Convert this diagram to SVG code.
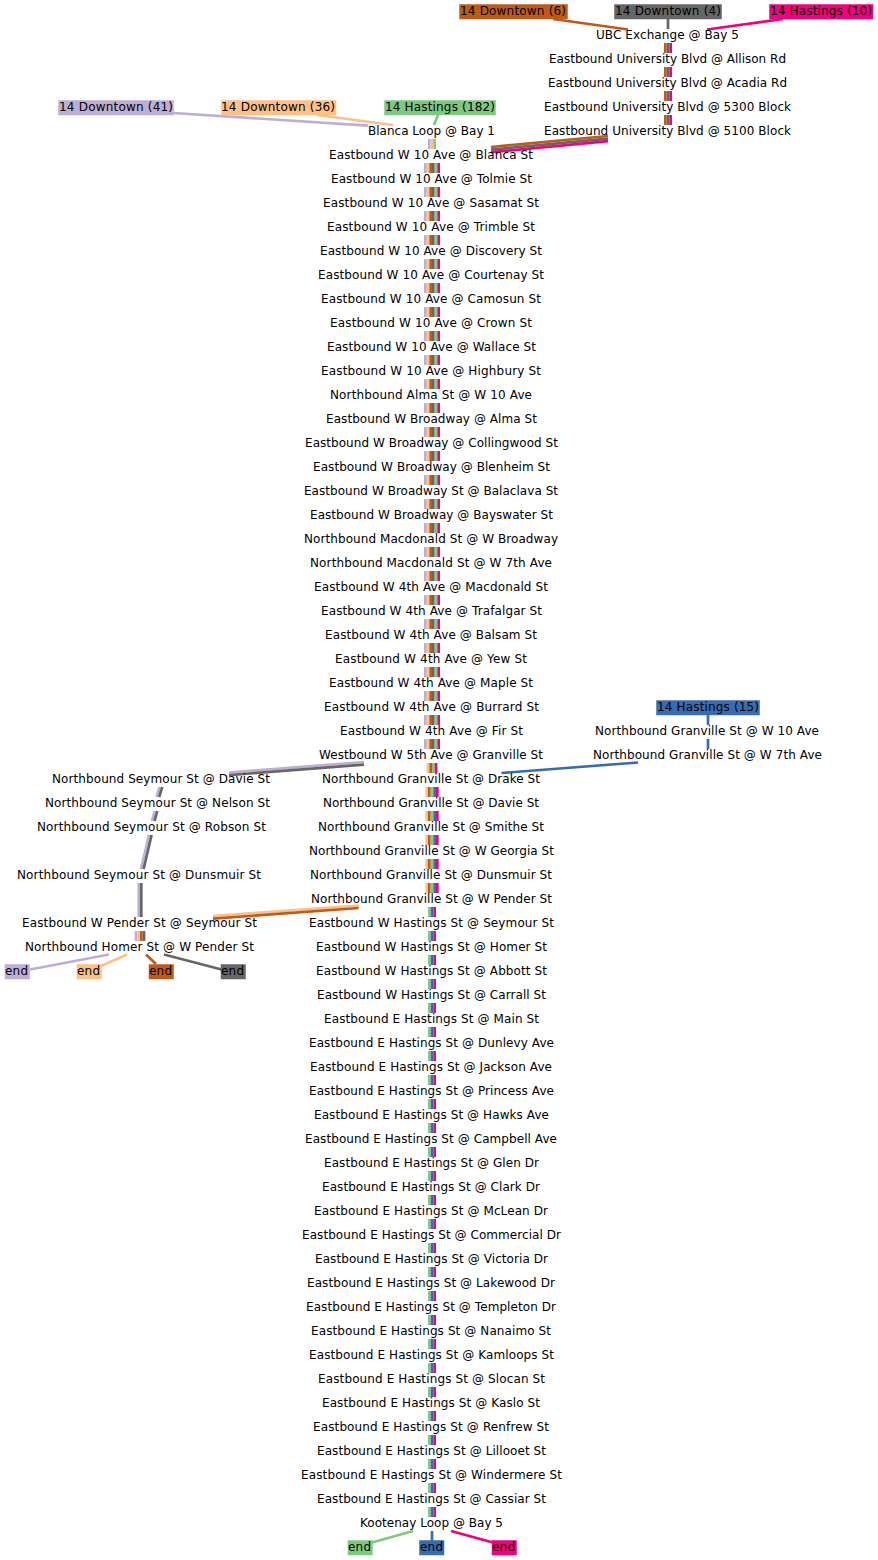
<svg xmlns="http://www.w3.org/2000/svg" xmlns:xlink="http://www.w3.org/1999/xlink" width="878" height="1560" viewBox="0 0 878 1560">
<style>
text{font-family:"DejaVu Sans",sans-serif;font-size:12px;fill:#000;text-anchor:middle}
line{fill:none;stroke-width:2.67;stroke-linecap:butt}
.p{stroke:#beaed4}.o{stroke:#fdc086}.g{stroke:#7fc97f}.b{stroke:#386cb0}.m{stroke:#f0027f}.r{stroke:#bf5b17}.k{stroke:#666666}
rect{stroke-width:1}
rect.p{fill:#beaed4;stroke-opacity:.5}rect.o{fill:#fdc086;stroke-opacity:.5}rect.g{fill:#7fc97f;stroke-opacity:.5}rect.b{fill:#386cb0;stroke-opacity:.5}rect.m{fill:#f0027f;stroke-opacity:.5}rect.r{fill:#bf5b17;stroke-opacity:.5}rect.k{fill:#666666;stroke-opacity:.5}
</style>
<defs>
<g id="b3top"><line class="r" x1="665.33" x2="665.33" y1="0" y2="10"/><line class="k" x1="668" x2="668" y1="0" y2="10"/><line class="m" x1="670.67" x2="670.67" y1="0" y2="10"/></g>
<g id="b6"><line class="p" x1="425.33" x2="425.33" y1="0" y2="10"/><line class="o" x1="428" x2="428" y1="0" y2="10"/><line class="r" x1="430.67" x2="430.67" y1="0" y2="10"/><line class="k" x1="433.33" x2="433.33" y1="0" y2="10"/><line class="g" x1="436" x2="436" y1="0" y2="10"/><line class="m" x1="438.67" x2="438.67" y1="0" y2="10"/></g>
<g id="b5"><line class="o" x1="426.67" x2="426.67" y1="0" y2="10"/><line class="r" x1="429.33" x2="429.33" y1="0" y2="10"/><line class="g" x1="432" x2="432" y1="0" y2="10"/><line class="b" x1="434.67" x2="434.67" y1="0" y2="10"/><line class="m" x1="437.33" x2="437.33" y1="0" y2="10"/></g>
<g id="b3"><line class="g" x1="429.33" x2="429.33" y1="0" y2="10"/><line class="b" x1="432" x2="432" y1="0" y2="10"/><line class="m" x1="434.67" x2="434.67" y1="0" y2="10"/></g>
</defs>
<g id="connectors">
<line class="r" x1="553" y1="19" x2="628" y2="29.5"/>
<line class="k" x1="668" y1="19" x2="668" y2="29"/>
<line class="m" x1="783" y1="19" x2="707" y2="29.5"/>
<use href="#b3top" y="43"/><use href="#b3top" y="67"/><use href="#b3top" y="91"/><use href="#b3top" y="115"/>
<line class="r" x1="608" y1="136" x2="491" y2="147"/>
<line class="k" x1="608" y1="138.6" x2="491" y2="149.6"/>
<line class="m" x1="608" y1="141.2" x2="491" y2="152.2"/>
<line class="p" x1="173" y1="113" x2="368" y2="125.7"/>
<line class="o" x1="317" y1="115" x2="393" y2="125"/>
<line class="g" x1="438" y1="115" x2="434" y2="125"/>
<line class="p" x1="429.33" x2="429.33" y1="139" y2="149"/><line class="o" x1="432" x2="432" y1="139" y2="149"/><line class="g" x1="434.67" x2="434.67" y1="139" y2="149"/>
<use href="#b6" y="163"/><use href="#b6" y="187"/><use href="#b6" y="211"/><use href="#b6" y="235"/><use href="#b6" y="259"/><use href="#b6" y="283"/><use href="#b6" y="307"/><use href="#b6" y="331"/><use href="#b6" y="355"/><use href="#b6" y="379"/><use href="#b6" y="403"/><use href="#b6" y="427"/><use href="#b6" y="451"/><use href="#b6" y="475"/><use href="#b6" y="499"/><use href="#b6" y="523"/><use href="#b6" y="547"/><use href="#b6" y="571"/><use href="#b6" y="595"/><use href="#b6" y="619"/><use href="#b6" y="643"/><use href="#b6" y="667"/><use href="#b6" y="691"/><use href="#b6" y="715"/><use href="#b6" y="739"/>
<line class="o" x1="428" x2="428" y1="763" y2="773"/><line class="r" x1="430.67" x2="430.67" y1="763" y2="773"/><line class="g" x1="433.33" x2="433.33" y1="763" y2="773"/><line class="m" x1="436" x2="436" y1="763" y2="773"/>
<use href="#b5" y="787"/><use href="#b5" y="811"/><use href="#b5" y="835"/><use href="#b5" y="859"/><use href="#b5" y="883"/>
<use href="#b3" y="907"/><use href="#b3" y="931"/><use href="#b3" y="955"/><use href="#b3" y="979"/><use href="#b3" y="1003"/><use href="#b3" y="1027"/><use href="#b3" y="1051"/><use href="#b3" y="1075"/><use href="#b3" y="1099"/><use href="#b3" y="1123"/><use href="#b3" y="1147"/><use href="#b3" y="1171"/><use href="#b3" y="1195"/><use href="#b3" y="1219"/><use href="#b3" y="1243"/><use href="#b3" y="1267"/><use href="#b3" y="1291"/><use href="#b3" y="1315"/><use href="#b3" y="1339"/><use href="#b3" y="1363"/><use href="#b3" y="1387"/><use href="#b3" y="1411"/><use href="#b3" y="1435"/><use href="#b3" y="1459"/><use href="#b3" y="1483"/><use href="#b3" y="1507"/>
<line class="g" x1="413" y1="1531" x2="372" y2="1542.5"/>
<line class="b" x1="432" y1="1531" x2="432" y2="1541"/>
<line class="m" x1="451" y1="1531" x2="493" y2="1542.5"/>
<line class="b" x1="708" y1="715" x2="708" y2="725"/>
<line class="b" x1="708" y1="739" x2="708" y2="749"/>
<line class="b" x1="638" y1="762.5" x2="501.5" y2="773"/>
<line class="p" x1="364" y1="762" x2="229" y2="772.5"/>
<line class="k" x1="364" y1="764.6" x2="229" y2="775.1"/>
<line class="p" x1="159.7" y1="787" x2="156.5" y2="797"/><line class="k" x1="162.3" y1="787" x2="159.1" y2="797"/>
<line class="p" x1="154.7" y1="811" x2="151.9" y2="821"/><line class="k" x1="157.3" y1="811" x2="154.5" y2="821"/>
<line class="p" x1="149" y1="835" x2="141" y2="869"/><line class="k" x1="151.6" y1="835" x2="143.6" y2="869"/>
<line class="p" x1="138.7" y1="883" x2="138.7" y2="917"/><line class="k" x1="141.3" y1="883" x2="141.3" y2="917"/>
<line class="p" x1="136" x2="136" y1="931" y2="941"/><line class="o" x1="138.67" x2="138.67" y1="931" y2="941"/><line class="r" x1="141.33" x2="141.33" y1="931" y2="941"/><line class="k" x1="144" x2="144" y1="931" y2="941"/>
<line class="o" x1="358.7" y1="905.5" x2="213" y2="916"/>
<line class="r" x1="358.7" y1="908" x2="213" y2="918.6"/>
<line class="p" x1="109" y1="954.5" x2="30" y2="969.5"/>
<line class="o" x1="127" y1="954.5" x2="101" y2="966"/>
<line class="r" x1="146" y1="954.5" x2="156" y2="964"/>
<line class="k" x1="164" y1="954.5" x2="221.5" y2="969.5"/>
</g>
<g id="nodes">
<g id="n-route-d6"><rect class="r" stroke="#bf5b17" x="459.5" y="4.5" width="108" height="14.5"/><text x="513" y="15" textLength="106">14 Downtown (6)</text></g>
<g id="n-route-d4"><rect class="k" stroke="#666666" x="614.5" y="4.5" width="107" height="14.5"/><text x="668" y="15" textLength="106">14 Downtown (4)</text></g>
<g id="n-route-h10"><rect class="m" stroke="#f0027f" x="769.5" y="4.5" width="103.5" height="14.5"/><text x="821" y="15" textLength="102">14 Hastings (10)</text></g>
<g id="n-route-d41"><rect class="p" stroke="#beaed4" x="58.5" y="100.5" width="115" height="14.5"/><text x="116" y="111" textLength="114">14 Downtown (41)</text></g>
<g id="n-route-d36"><rect class="o" stroke="#fdc086" x="221.5" y="100.5" width="114.5" height="14.5"/><text x="278" y="111" textLength="114">14 Downtown (36)</text></g>
<g id="n-route-h182"><rect class="g" stroke="#7fc97f" x="384.500" y="100.5" width="111" height="14.5"/><text x="440" y="111" textLength="110">14 Hastings (182)</text></g>
<g id="n-route-h15"><rect class="b" stroke="#386cb0" x="656.5" y="700.5" width="103" height="14.5"/><text x="708" y="711" textLength="102">14 Hastings (15)</text></g>
<g id="n-ubc"><text x="667.500" y="39" textLength="143">UBC Exchange @ Bay 5</text></g>
<g id="n-allison"><text x="667.500" y="63" textLength="237">Eastbound University Blvd @ Allison Rd</text></g>
<g id="n-acadia"><text x="667.500" y="87" textLength="239">Eastbound University Blvd @ Acadia Rd</text></g>
<g id="n-5300"><text x="667.500" y="111" textLength="247">Eastbound University Blvd @ 5300 Block</text></g>
<g id="n-5100"><text x="667.500" y="135" textLength="247">Eastbound University Blvd @ 5100 Block</text></g>
<g id="n-blanca-loop"><text x="431.500" y="135" textLength="127">Blanca Loop @ Bay 1</text></g>
<g id="n-t01"><text x="431" y="159" textLength="204">Eastbound W 10 Ave @ Blanca St</text></g>
<g id="n-t02"><text x="431.500" y="183" textLength="201">Eastbound W 10 Ave @ Tolmie St</text></g>
<g id="n-t03"><text x="431" y="207" textLength="216">Eastbound W 10 Ave @ Sasamat St</text></g>
<g id="n-t04"><text x="431" y="231" textLength="208">Eastbound W 10 Ave @ Trimble St</text></g>
<g id="n-t05"><text x="431" y="255" textLength="222">Eastbound W 10 Ave @ Discovery St</text></g>
<g id="n-t06"><text x="431" y="279" textLength="226">Eastbound W 10 Ave @ Courtenay St</text></g>
<g id="n-t07"><text x="431" y="303" textLength="220">Eastbound W 10 Ave @ Camosun St</text></g>
<g id="n-t08"><text x="431" y="327" textLength="202">Eastbound W 10 Ave @ Crown St</text></g>
<g id="n-t09"><text x="431.500" y="351" textLength="209">Eastbound W 10 Ave @ Wallace St</text></g>
<g id="n-t10"><text x="431" y="375" textLength="220">Eastbound W 10 Ave @ Highbury St</text></g>
<g id="n-t11"><text x="431" y="399" textLength="202">Northbound Alma St @ W 10 Ave</text></g>
<g id="n-t12"><text x="431.500" y="423" textLength="211">Eastbound W Broadway @ Alma St</text></g>
<g id="n-t13"><text x="431.500" y="447" textLength="253">Eastbound W Broadway @ Collingwood St</text></g>
<g id="n-t14"><text x="431.500" y="471" textLength="237">Eastbound W Broadway @ Blenheim St</text></g>
<g id="n-t15"><text x="431" y="495" textLength="254">Eastbound W Broadway St @ Balaclava St</text></g>
<g id="n-t16"><text x="431.500" y="519" textLength="243">Eastbound W Broadway @ Bayswater St</text></g>
<g id="n-t17"><text x="431" y="543" textLength="254">Northbound Macdonald St @ W Broadway</text></g>
<g id="n-t18"><text x="431" y="567" textLength="242">Northbound Macdonald St @ W 7th Ave</text></g>
<g id="n-t19"><text x="431" y="591" textLength="234">Eastbound W 4th Ave @ Macdonald St</text></g>
<g id="n-t20"><text x="431.500" y="615" textLength="221">Eastbound W 4th Ave @ Trafalgar St</text></g>
<g id="n-t21"><text x="431" y="639" textLength="212">Eastbound W 4th Ave @ Balsam St</text></g>
<g id="n-t22"><text x="431" y="663" textLength="192">Eastbound W 4th Ave @ Yew St</text></g>
<g id="n-t23"><text x="431" y="687" textLength="204">Eastbound W 4th Ave @ Maple St</text></g>
<g id="n-t24"><text x="431.500" y="711" textLength="215">Eastbound W 4th Ave @ Burrard St</text></g>
<g id="n-t25"><text x="431.500" y="735" textLength="183">Eastbound W 4th Ave @ Fir St</text></g>
<g id="n-t26"><text x="431" y="759" textLength="224">Westbound W 5th Ave @ Granville St</text></g>
<g id="n-t27"><text x="431" y="783" textLength="218">Northbound Granville St @ Drake St</text></g>
<g id="n-t28"><text x="431" y="807" textLength="216">Northbound Granville St @ Davie St</text></g>
<g id="n-t29"><text x="431" y="831" textLength="226">Northbound Granville St @ Smithe St</text></g>
<g id="n-t30"><text x="431.500" y="855" textLength="245">Northbound Granville St @ W Georgia St</text></g>
<g id="n-t31"><text x="431" y="879" textLength="242">Northbound Granville St @ Dunsmuir St</text></g>
<g id="n-t32"><text x="431.500" y="903" textLength="241">Northbound Granville St @ W Pender St</text></g>
<g id="n-t33"><text x="431.500" y="927" textLength="245">Eastbound W Hastings St @ Seymour St</text></g>
<g id="n-t34"><text x="431.500" y="951" textLength="231">Eastbound W Hastings St @ Homer St</text></g>
<g id="n-t35"><text x="431.500" y="975" textLength="231">Eastbound W Hastings St @ Abbott St</text></g>
<g id="n-t36"><text x="431.500" y="999" textLength="229">Eastbound W Hastings St @ Carrall St</text></g>
<g id="n-t37"><text x="431.500" y="1023" textLength="215">Eastbound E Hastings St @ Main St</text></g>
<g id="n-t38"><text x="431.500" y="1047" textLength="245">Eastbound E Hastings St @ Dunlevy Ave</text></g>
<g id="n-t39"><text x="431" y="1071" textLength="242">Eastbound E Hastings St @ Jackson Ave</text></g>
<g id="n-t40"><text x="431.500" y="1095" textLength="245">Eastbound E Hastings St @ Princess Ave</text></g>
<g id="n-t41"><text x="431.500" y="1119" textLength="235">Eastbound E Hastings St @ Hawks Ave</text></g>
<g id="n-t42"><text x="431" y="1143" textLength="252">Eastbound E Hastings St @ Campbell Ave</text></g>
<g id="n-t43"><text x="431.500" y="1167" textLength="215">Eastbound E Hastings St @ Glen Dr</text></g>
<g id="n-t44"><text x="431" y="1191" textLength="218">Eastbound E Hastings St @ Clark Dr</text></g>
<g id="n-t45"><text x="431" y="1215" textLength="234">Eastbound E Hastings St @ McLean Dr</text></g>
<g id="n-t46"><text x="431.500" y="1239" textLength="259">Eastbound E Hastings St @ Commercial Dr</text></g>
<g id="n-t47"><text x="431.500" y="1263" textLength="233">Eastbound E Hastings St @ Victoria Dr</text></g>
<g id="n-t48"><text x="431" y="1287" textLength="248">Eastbound E Hastings St @ Lakewood Dr</text></g>
<g id="n-t49"><text x="431" y="1311" textLength="250">Eastbound E Hastings St @ Templeton Dr</text></g>
<g id="n-t50"><text x="431" y="1335" textLength="240">Eastbound E Hastings St @ Nanaimo St</text></g>
<g id="n-t51"><text x="431.500" y="1359" textLength="245">Eastbound E Hastings St @ Kamloops St</text></g>
<g id="n-t52"><text x="431.500" y="1383" textLength="227">Eastbound E Hastings St @ Slocan St</text></g>
<g id="n-t53"><text x="431" y="1407" textLength="218">Eastbound E Hastings St @ Kaslo St</text></g>
<g id="n-t54"><text x="431" y="1431" textLength="236">Eastbound E Hastings St @ Renfrew St</text></g>
<g id="n-t55"><text x="431.500" y="1455" textLength="229">Eastbound E Hastings St @ Lillooet St</text></g>
<g id="n-t56"><text x="431.500" y="1479" textLength="261">Eastbound E Hastings St @ Windermere St</text></g>
<g id="n-t57"><text x="431.500" y="1503" textLength="229">Eastbound E Hastings St @ Cassiar St</text></g>
<g id="n-t58"><text x="431.500" y="1527" textLength="143">Kootenay Loop @ Bay 5</text></g>
<g id="n-g1"><text x="707" y="735" textLength="224">Northbound Granville St @ W 10 Ave</text></g>
<g id="n-g2"><text x="707.500" y="759" textLength="229">Northbound Granville St @ W 7th Ave</text></g>
<g id="n-s1"><text x="161" y="783" textLength="218">Northbound Seymour St @ Davie St</text></g>
<g id="n-s2"><text x="157.500" y="807" textLength="225">Northbound Seymour St @ Nelson St</text></g>
<g id="n-s3"><text x="151.500" y="831" textLength="229">Northbound Seymour St @ Robson St</text></g>
<g id="n-s4"><text x="139" y="879" textLength="244">Northbound Seymour St @ Dunsmuir St</text></g>
<g id="n-s5"><text x="139.500" y="927" textLength="235">Eastbound W Pender St @ Seymour St</text></g>
<g id="n-s6"><text x="139.500" y="951" textLength="229">Northbound Homer St @ W Pender St</text></g>
<g id="n-end1"><rect class="p" stroke="#beaed4" x="5" y="964.5" width="24.500" height="14.5"/><text x="16.500" y="975" textLength="23">end</text></g>
<g id="n-end2"><rect class="o" stroke="#fdc086" x="77" y="964.5" width="24.500" height="14.5"/><text x="88.500" y="975" textLength="23">end</text></g>
<g id="n-end3"><rect class="r" stroke="#bf5b17" x="149" y="964.5" width="24.500" height="14.5"/><text x="160.500" y="975" textLength="23">end</text></g>
<g id="n-end4"><rect class="k" stroke="#666666" x="221" y="964.5" width="24.500" height="14.5"/><text x="232.500" y="975" textLength="23">end</text></g>
<g id="n-end5"><rect class="g" stroke="#7fc97f" x="348" y="1540.5" width="24.500" height="14.5"/><text x="359.500" y="1551" textLength="23">end</text></g>
<g id="n-end6"><rect class="b" stroke="#386cb0" x="419.500" y="1540.500" width="24.500" height="14.5"/><text x="431.500" y="1551" textLength="23">end</text></g>
<g id="n-end7"><rect class="m" stroke="#f0027f" x="492" y="1540.5" width="24.500" height="14.5"/><text x="503.500" y="1551" textLength="23">end</text></g>
</g>
</svg>
